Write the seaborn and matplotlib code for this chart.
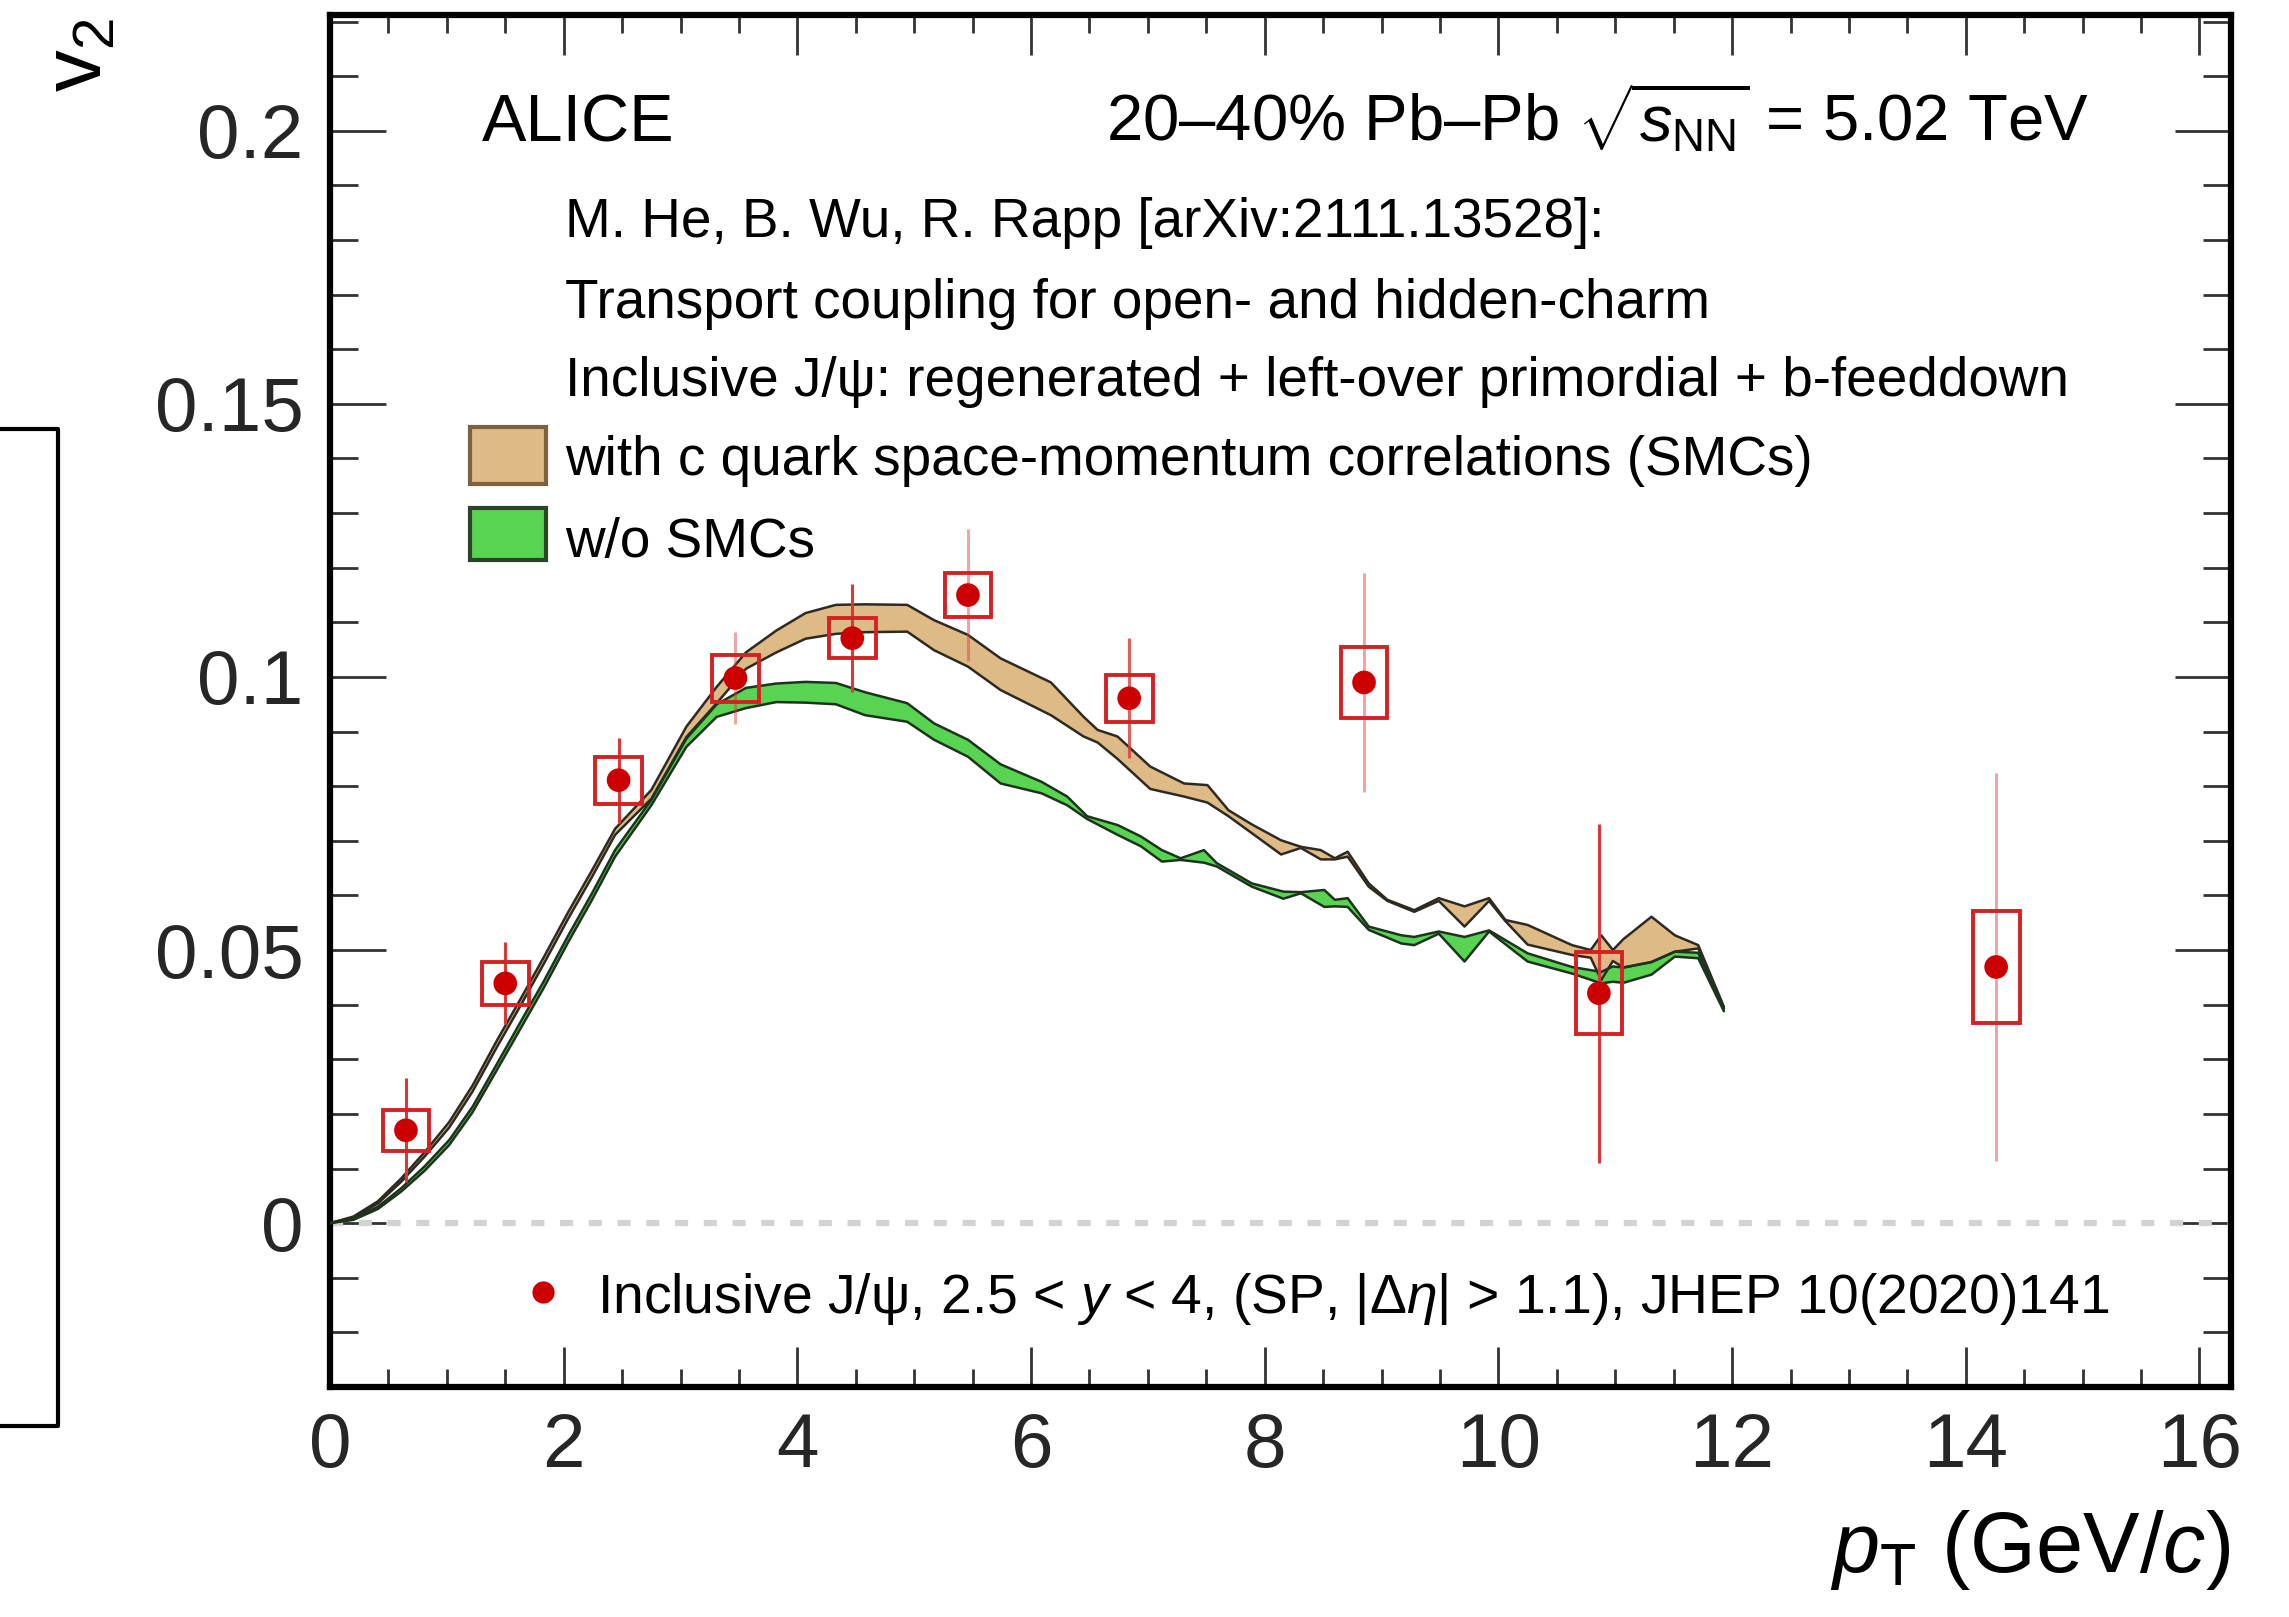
import matplotlib
matplotlib.use("Agg")
import matplotlib.pyplot as plt
from matplotlib.patches import Rectangle
from matplotlib.lines import Line2D
from matplotlib.ticker import MultipleLocator, FuncFormatter
import numpy as np
import pandas as pd
import seaborn as sns

# ---------------- data ----------------
pt_data = [0.65, 1.50, 2.47, 3.47, 4.47, 5.46, 6.84, 8.85, 10.86, 14.26]
v2_data = [0.0170, 0.0439, 0.0811, 0.0998, 0.1071, 0.1150, 0.0961, 0.0990, 0.0421, 0.0469]
v2_stat = [0.0095, 0.0075, 0.0078, 0.0085, 0.0099, 0.0121, 0.0110, 0.0200, 0.0310, 0.0355]
v2_syst = [0.0037, 0.0040, 0.0043, 0.0043, 0.0037, 0.0040, 0.0043, 0.0065, 0.0075, 0.0102]

# model: with c-quark space-momentum correlations (SMCs)
smc_pt = [0.0, 0.2, 0.41, 0.61, 0.81, 1.02, 1.22, 1.43, 1.63, 1.83,
          2.04, 2.24, 2.44, 2.75, 3.05, 3.31, 3.56, 3.82, 4.07, 4.33,
          4.58, 4.94, 5.17, 5.46, 5.74, 6.17, 6.45, 6.57, 6.74, 7.02,
          7.31, 7.51, 7.69, 7.89, 8.14, 8.31, 8.48, 8.60, 8.71, 8.89,
          9.05, 9.28, 9.49, 9.71, 9.92, 10.06, 10.25, 10.63, 10.79, 10.88,
          10.98, 11.07, 11.31, 11.51, 11.71, 11.93]
smc_hi = [0.0, 0.0012, 0.0040, 0.0082, 0.0130, 0.0185, 0.0252, 0.0335, 0.0410, 0.0487,
          0.0570, 0.0645, 0.0722, 0.0793, 0.0909, 0.0982, 0.1045, 0.1085, 0.1117, 0.1132,
          0.1133, 0.1132, 0.1104, 0.1077, 0.1034, 0.0990, 0.0927, 0.0903, 0.0891, 0.0836,
          0.0805, 0.0802, 0.0756, 0.0730, 0.0701, 0.0689, 0.0683, 0.0668, 0.0680, 0.0622,
          0.0592, 0.0573, 0.0595, 0.0580, 0.0595, 0.0555, 0.0546, 0.0509, 0.0500, 0.0527,
          0.0500, 0.0520, 0.0561, 0.0527, 0.0509, 0.0396]
smc_lo = [0.0, 0.0010, 0.0036, 0.0076, 0.0122, 0.0175, 0.0241, 0.0323, 0.0398, 0.0475,
          0.0558, 0.0633, 0.0711, 0.0777, 0.0890, 0.0952, 0.1015, 0.1045, 0.1070, 0.1079,
          0.1082, 0.1083, 0.1049, 0.1019, 0.0976, 0.0930, 0.0891, 0.0880, 0.0850, 0.0795,
          0.0781, 0.0770, 0.0745, 0.0714, 0.0675, 0.0687, 0.0666, 0.0666, 0.0671, 0.0616,
          0.0590, 0.0570, 0.0590, 0.0543, 0.0590, 0.0553, 0.0510, 0.0491, 0.0486, 0.0445,
          0.0480, 0.0468, 0.0478, 0.0497, 0.0503, 0.0393]

# model: without SMCs
nosmc_pt = [0.0, 0.2, 0.41, 0.61, 0.81, 1.02, 1.22, 1.43, 1.63, 1.83,
            2.04, 2.24, 2.44, 2.75, 3.05, 3.31, 3.56, 3.82, 4.07, 4.33,
            4.58, 4.94, 5.17, 5.46, 5.74, 6.09, 6.31, 6.48, 6.74, 6.94,
            7.12, 7.28, 7.48, 7.59, 7.89, 8.16, 8.31, 8.51, 8.60, 8.71,
            8.89, 9.17, 9.28, 9.49, 9.71, 9.92, 10.25, 10.63, 10.88, 10.98,
            11.07, 11.31, 11.51, 11.71, 11.93]
nosmc_hi = [0.0, 0.0008, 0.0030, 0.0064, 0.0104, 0.0152, 0.0213, 0.0292, 0.0368, 0.0443,
            0.0527, 0.0603, 0.0683, 0.0775, 0.0887, 0.0950, 0.0980, 0.0988, 0.0991, 0.0989,
            0.0972, 0.0952, 0.0915, 0.0885, 0.0840, 0.0808, 0.0781, 0.0745, 0.0729, 0.0708,
            0.0683, 0.0668, 0.0683, 0.0659, 0.0622, 0.0607, 0.0606, 0.0610, 0.0592, 0.0595,
            0.0543, 0.0527, 0.0524, 0.0534, 0.0524, 0.0536, 0.0494, 0.0469, 0.0460, 0.0470,
            0.0468, 0.0478, 0.0497, 0.0495, 0.0393]
nosmc_lo = [0.0, 0.0006, 0.0026, 0.0058, 0.0096, 0.0143, 0.0203, 0.0281, 0.0356, 0.0431,
            0.0515, 0.0591, 0.0671, 0.0765, 0.0872, 0.0927, 0.0943, 0.0954, 0.0953, 0.0950,
            0.0930, 0.0918, 0.0885, 0.0854, 0.0805, 0.0787, 0.0765, 0.0740, 0.0711, 0.0690,
            0.0662, 0.0665, 0.0660, 0.0653, 0.0616, 0.0594, 0.0604, 0.0579, 0.0580, 0.0579,
            0.0537, 0.0512, 0.0509, 0.0530, 0.0479, 0.0534, 0.0479, 0.0457, 0.0439, 0.0442,
            0.0440, 0.0455, 0.0488, 0.0485, 0.0388]

x_ticks = [0, 2, 4, 6, 8, 10, 12, 14, 16]
y_ticks = [0, 0.05, 0.1, 0.15, 0.2]

# ---------------- style ----------------
RED = "#cc0000"
BOX_RED = "#d42222"
BAR_RED = "#d83a3a"
TAN = "#deba86"
GREEN = "#58d452"
TAN_EDGE = "#2e2a22"
GREEN_EDGE = "#1d331d"
box_hw = 0.2
stat_alpha = [1.0, 1.0, 1.0, 0.45, 1.0, 0.45, 0.8, 0.45, 1.0, 0.45]

sns.set_theme(style="ticks")
plt.rcParams["font.family"] = ["Liberation Sans", "DejaVu Sans"]
plt.rcParams["mathtext.fontset"] = "custom"
plt.rcParams["mathtext.rm"] = "Liberation Sans"
plt.rcParams["mathtext.it"] = "Liberation Sans:italic"
plt.rcParams["mathtext.bf"] = "Liberation Sans:bold"
plt.rcParams["text.color"] = "black"

W, H = 2289, 1617
fig = plt.figure(figsize=(W / 100, H / 100), dpi=100)
fig.patch.set_facecolor("white")


def fx(px):
    return px / W


def fy(py):
    return 1 - py / H


ax = fig.add_axes([fx(330), fy(1387), fx(2231) - fx(330), fy(15) - fy(1387)])
ax.set_facecolor("white")
ax.set_xlim(0, 16.27)
ax.set_ylim(-0.0300, 0.2212)

# zero line
ax.axhline(0, color="#d3d3d3", lw=4.5, ls=(0, (2.1, 2.5)), zorder=1)

# model bands
ax.fill_between(smc_pt, smc_lo, smc_hi, color=TAN, lw=0, zorder=2)
ax.plot(smc_pt, smc_hi, color=TAN_EDGE, lw=1.8, zorder=3)
ax.plot(smc_pt, smc_lo, color=TAN_EDGE, lw=1.8, zorder=3)
ax.fill_between(nosmc_pt, nosmc_lo, nosmc_hi, color=GREEN, lw=0, zorder=2.5)
ax.plot(nosmc_pt, nosmc_hi, color=GREEN_EDGE, lw=1.8, zorder=3)
ax.plot(nosmc_pt, nosmc_lo, color=GREEN_EDGE, lw=1.8, zorder=3)

# data: systematic boxes, statistical bars, markers
for x, y, st, sy, a in zip(pt_data, v2_data, v2_stat, v2_syst, stat_alpha):
    ax.vlines(x, y - st, y + st, color=BAR_RED, lw=2.2, alpha=a, zorder=4)
    ax.add_patch(Rectangle((x - box_hw, y - sy), 2 * box_hw, 2 * sy, fill=False,
                           edgecolor=BOX_RED, lw=2.8, zorder=5))

df = pd.DataFrame({"pt": pt_data, "v2": v2_data})
sns.scatterplot(data=df, x="pt", y="v2", ax=ax, s=290, color=RED,
                edgecolor="none", linewidth=0, zorder=6, legend=False)
ax.set_xlabel("")
ax.set_ylabel("")

# axes styling
for sp in ax.spines.values():
    sp.set_linewidth(4.5)
    sp.set_color("black")
    sp.set_visible(True)
ax.set_xticks(x_ticks)
ax.set_yticks(y_ticks)
ax.xaxis.set_minor_locator(MultipleLocator(0.5))
ax.yaxis.set_minor_locator(MultipleLocator(0.01))
ax.yaxis.set_major_formatter(FuncFormatter(lambda v, p: "%g" % round(v, 3)))
ax.tick_params(which="both", direction="in", top=True, right=True, color="#333333")
ax.tick_params(axis="x", which="major", length=29, width=2, pad=18, labelsize=55)
ax.tick_params(axis="x", which="minor", length=13, width=2)
ax.tick_params(axis="y", which="major", length=40, width=2, pad=19, labelsize=55)
ax.tick_params(axis="y", which="minor", length=20, width=2)
ax.grid(False)

# texts
fig.text(fx(482), fy(141), "ALICE", fontsize=48, ha="left", va="baseline")
fig.text(fx(2089), fy(141), r"20–40% Pb–Pb $\sqrt{s_{\mathrm{NN}}}$ = 5.02 TeV",
         fontsize=47, ha="right", va="baseline")
model_fs = 39.5
fig.text(fx(565), fy(237), "M. He, B. Wu, R. Rapp [arXiv:2111.13528]:", fontsize=model_fs, va="baseline")
fig.text(fx(565), fy(318), "Transport coupling for open- and hidden-charm", fontsize=model_fs, va="baseline")
fig.text(fx(565), fy(396), "Inclusive J/ψ: regenerated + left-over primordial + b-feeddown",
         fontsize=model_fs, va="baseline")
fig.text(fx(565), fy(475), "with c quark space-momentum correlations (SMCs)", fontsize=model_fs,
         va="baseline")
fig.text(fx(565), fy(557), "w/o SMCs", fontsize=model_fs, va="baseline")

fig.add_artist(Rectangle((fx(470), fy(484)), fx(546) - fx(470), fy(427) - fy(484),
                         transform=fig.transFigure, facecolor=TAN, edgecolor="#7d6140", lw=3))
fig.add_artist(Rectangle((fx(470), fy(560)), fx(546) - fx(470), fy(508) - fy(560),
                         transform=fig.transFigure, facecolor=GREEN, edgecolor="#2a432a", lw=3))

fig.add_artist(Line2D([fx(543)], [fy(1292)], marker="o", ms=16, color=RED, mec="none",
                      transform=fig.transFigure))
fig.text(fx(597), fy(1313),
         r"Inclusive J/ψ, 2.5 < $y$ < 4, (SP, |$\Delta\eta$| > 1.1), JHEP 10(2020)141",
         fontsize=39.8, va="baseline")

fig.text(fx(2230), fy(1572), r"$p_{\mathrm{T}}$ (GeV/$c$)", fontsize=61, ha="right", va="baseline")
fig.text(fx(80), fy(55), r"$\mathrm{v}_{2}$", fontsize=60, rotation=90, ha="center", va="center")

# partial frame at the left edge
fig.add_artist(Line2D([0, fx(58), fx(58), 0], [fy(429), fy(429), fy(1426), fy(1426)],
                      color="black", lw=3, transform=fig.transFigure))

fig.savefig("out.png", dpi=100, facecolor="white")
